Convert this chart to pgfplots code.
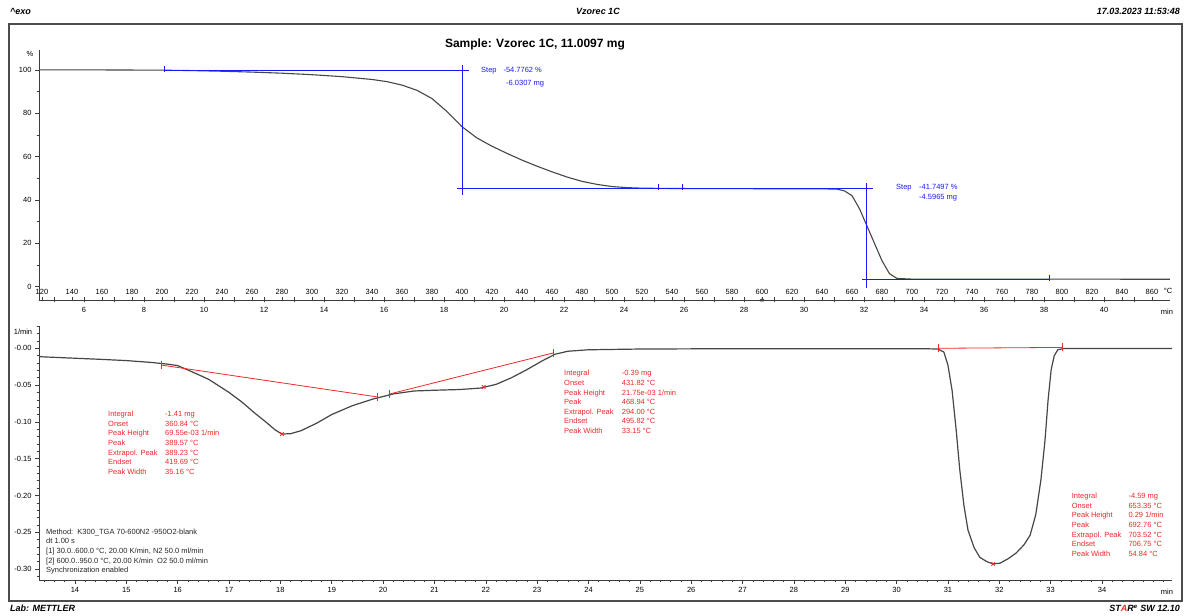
\documentclass[border=0pt]{standalone}
\usepackage{pgfplots}
\pgfplotsset{compat=1.18}
\usepackage{fontspec}
\setmainfont{Liberation Sans}
\definecolor{curve}{RGB}{70,70,70}
\definecolor{stepblue}{RGB}{25,25,255}
\definecolor{evred}{RGB}{240,40,40}
\definecolor{axgray}{RGB}{60,60,60}
\newcommand{\fs}{\fontsize{7.5}{9}\selectfont}
\newcommand{\tl}[3]{\node[anchor=base west,inner sep=0pt] at ({#1pt},{616pt-#2pt}) {#3};}
\pgfplotsset{
  mstyle/.style={scale only axis, clip=false,
    axis line style={axgray, line width=0.8pt},
    tick style={axgray, line width=0.6pt},
    major tick length=4pt, minor tick length=2.5pt,
    tick label style={font=\fs, text=black},
    /pgf/number format/assume math mode=true},
}
\begin{document}
\begin{tikzpicture}
\fill[white] (0pt,0pt) rectangle (1187pt,616pt);
\draw[gray!60!black, line width=1.3pt] (9pt,592pt) rectangle (1182pt,15pt);
% header / footer
\begin{scope}[font=\fontsize{9}{10}\selectfont\bfseries\itshape]
\node[anchor=base west,inner sep=0pt] at (10pt,601pt) {\textasciicircum exo};
\node[anchor=base,inner sep=0pt] at (598pt,601pt) {Vzorec 1C};
\node[anchor=base east,inner sep=0pt] at (1180pt,601pt) {17.03.2023 11:53:48};
\node[anchor=base west,inner sep=0pt] at (10pt,4pt) {Lab: METTLER};
\node[anchor=base east,inner sep=0pt] at (1180pt,4pt) {ST{\color{evred}A}R\textsuperscript{e} SW 12.10};
\end{scope}
\node[anchor=base,inner sep=0pt,font=\fontsize{12}{13}\selectfont\bfseries] at (535pt,568pt) {Sample: Vzorec 1C, 11.0097 mg};

% ===== TOP: TGA =====
\begin{axis}[mstyle, at={(39pt,316pt)}, anchor=south west, width=1131pt, height=250pt,
  xmin=118, xmax=872, ymin=-6.14, ymax=109.2,
  axis x line=none, axis y line*=left, tick align=outside,
  ytick={0,20,40,60,80,100}, minor ytick={10,30,50,70,90}]
\addplot[curve, line width=1.1pt] coordinates {
(118,100.0) (140,100.0) (160,100.0) (180,99.95) (200,99.9) (220,99.7) (240,99.4)
(260,99.0) (280,98.5) (300,97.8) (320,96.9) (340,95.6) (350,94.6) (360,93.0)
(370,90.6) (380,86.8) (390,80.8) (400,73.8) (410,68.6) (420,64.8) (430,61.5)
(440,58.4) (450,55.6) (460,53.0) (470,50.6) (480,48.6) (490,47.2) (500,46.2)
(510,45.7) (520,45.45) (540,45.3) (560,45.25) (600,45.2) (640,45.15) (650,45.0)
(655,44.2) (660,42.0) (665,36.0) (670,28.0) (675,20.0) (680,12.0) (685,6.0)
(690,3.8) (700,3.5) (760,3.47) (860,3.45) (872,3.45)};
\addplot[stepblue, line width=0.8pt] coordinates {(202,100) (404.7,100)};
\addplot[stepblue, line width=0.8pt] coordinates {(400.5,102.3) (400.5,42.1)};
\addplot[stepblue, line width=0.8pt] coordinates {(397,45.22) (674,45.22)};
\addplot[stepblue, line width=0.8pt] coordinates {(669.8,47.7) (669.8,-0.5)};
\addplot[stepblue, line width=0.8pt] coordinates {(666.7,3.47) (792,3.47)};
\addplot[stepblue, only marks, mark=|, mark size=3pt, line width=1pt] coordinates {
(202,100.6) (530.7,45.8) (547.3,45.8) (792,4.1)};
\end{axis}
% temperature labels above the line
\begin{axis}[mstyle, at={(39pt,316pt)}, anchor=south west, width=1131pt, height=250pt,
  xmin=118, xmax=872, ymin=0, ymax=1,
  axis y line=none, axis x line*=bottom, tick align=inside, major tick length=3pt,
  xtick={120,140,...,860}, xticklabel style={anchor=south, yshift=2pt}]
\addplot[axgray, only marks, mark=star, mark size=2.2pt, line width=0.6pt] coordinates {(600,0)};
\end{axis}
% time labels below the line
\begin{axis}[mstyle, at={(39pt,316pt)}, anchor=south west, width=1131pt, height=250pt,
  xmin=4.5, xmax=42.2, ymin=0, ymax=1,
  axis y line=none, axis x line*=bottom, tick align=center,
  major tick length=5pt, minor tick length=5pt,
  xtick={6,8,...,40}, minor xtick={5,7,...,41},
  xticklabel style={yshift=-1.5pt}]
\end{axis}
\node[font=\fs] at (30pt,562pt) {\%};
\node[font=\fs] at (1168pt,325pt) {°C};
\node[font=\fs] at (1167pt,304pt) {min};
\begin{scope}[font=\fs, text=stepblue]
\tl{481}{72.7}{Step}
\tl{503.3}{72.7}{-54.7762 \%}
\tl{506}{85.4}{-6.0307 mg}
\tl{896}{190}{Step}
\tl{919}{190}{-41.7497 \%}
\tl{919}{199.4}{-4.5965 mg}
\end{scope}

% ===== BOTTOM: DTG =====
\begin{axis}[mstyle, at={(39pt,36pt)}, anchor=south west, width=1133pt, height=254pt,
  xmin=13.299, xmax=35.363, ymin=-0.3148, ymax=0.0303,
  axis x line*=bottom, axis y line*=left, tick align=outside,
  xtick={14,15,...,34}, minor xtick={13.4,13.6,...,35.2},
  ytick={-0.3,-0.25,-0.2,-0.15,-0.1,-0.05,0},
  yticklabels={-0.30,-0.25,-0.20,-0.15,-0.10,-0.05,-0.00},
  minor ytick={-0.31,-0.29,-0.28,-0.27,-0.26,-0.24,-0.23,-0.22,-0.21,-0.19,-0.18,-0.17,-0.16,-0.14,-0.13,-0.12,-0.11,-0.09,-0.08,-0.07,-0.06,-0.04,-0.03,-0.02,-0.01,0.01,0.02,0.03}]
\addplot[curve, line width=1.2pt] coordinates {
(13.299,-0.0114) (14.0,-0.0135) (14.5,-0.0150) (15.0,-0.0167) (15.5,-0.0193)
(15.8,-0.0215) (16.0,-0.0235) (16.2,-0.0295) (16.6,-0.042) (17.0,-0.060)
(17.25,-0.073) (17.5,-0.088) (17.75,-0.102) (17.9,-0.111) (18.03,-0.1165)
(18.2,-0.116) (18.4,-0.112) (18.7,-0.102) (19.0,-0.090) (19.4,-0.078)
(19.8,-0.069) (20.2,-0.062) (20.6,-0.058) (21.0,-0.057) (21.5,-0.056)
(21.9,-0.054) (22.2,-0.049) (22.5,-0.040) (22.8,-0.029) (23.1,-0.017)
(23.35,-0.008) (23.6,-0.004) (24.0,-0.002) (25,-0.001) (27,-0.0005)
(29,-0.0005) (30.5,-0.0005) (30.8,-0.001) (30.92,-0.005) (31.0,-0.023)
(31.08,-0.057) (31.16,-0.111) (31.23,-0.165) (31.31,-0.213) (31.39,-0.247)
(31.51,-0.271) (31.62,-0.284) (31.76,-0.290) (31.88,-0.293) (32.01,-0.292)
(32.17,-0.286) (32.33,-0.278) (32.48,-0.267) (32.60,-0.254) (32.71,-0.226)
(32.81,-0.179) (32.89,-0.125) (32.95,-0.070) (33.01,-0.029) (33.07,-0.010)
(33.14,-0.002) (33.26,-0.0003) (34,-0.0003) (35.363,-0.0003)};
\addplot[evred, line width=0.8pt] coordinates {(15.675,-0.0227) (19.90,-0.0662)};
\addplot[evred, line width=0.8pt] coordinates {(20.13,-0.062) (23.31,-0.0064)};
\addplot[evred, line width=0.8pt] coordinates {(30.81,0.0) (33.24,0.0012)};
\addplot[evred, only marks, mark=|, mark size=4pt, line width=1pt,
  mark options={evred, solid}] coordinates {
(15.675,-0.0227) (19.90,-0.0662) (20.13,-0.062) (23.31,-0.0064) (30.81,0.0) (33.24,0.0012)};
\addplot[evred, only marks, mark=x, mark size=2.5pt, line width=0.8pt] coordinates {
(18.03,-0.1165) (21.96,-0.0525) (31.88,-0.293)};
\end{axis}
\node[font=\fs] at (23pt,284pt) {1/min};
\node[font=\fs] at (1167pt,24pt) {min};

\begin{scope}[font=\fs, text=evred]
\tl{108}{416.7}{Integral}        \tl{165}{416.7}{-1.41 mg}
\tl{108}{426.4}{Onset}           \tl{165}{426.4}{360.84 °C}
\tl{108}{436.0}{Peak Height}     \tl{165}{436.0}{69.55e-03 1/min}
\tl{108}{445.7}{Peak}            \tl{165}{445.7}{389.57 °C}
\tl{108}{455.4}{Extrapol. Peak}  \tl{165}{455.4}{389.23 °C}
\tl{108}{465.0}{Endset}          \tl{165}{465.0}{419.69 °C}
\tl{108}{474.7}{Peak Width}      \tl{165}{474.7}{35.16 °C}
\tl{564}{376.0}{Integral}        \tl{621.7}{376.0}{-0.39 mg}
\tl{564}{385.6}{Onset}           \tl{621.7}{385.6}{431.82 °C}
\tl{564}{395.1}{Peak Height}     \tl{621.7}{395.1}{21.75e-03 1/min}
\tl{564}{404.7}{Peak}            \tl{621.7}{404.7}{468.94 °C}
\tl{564}{414.3}{Extrapol. Peak}  \tl{621.7}{414.3}{294.00 °C}
\tl{564}{423.9}{Endset}          \tl{621.7}{423.9}{495.82 °C}
\tl{564}{433.4}{Peak Width}      \tl{621.7}{433.4}{33.15 °C}
\tl{1071.7}{498.7}{Integral}       \tl{1128.3}{498.7}{-4.59 mg}
\tl{1071.7}{508.4}{Onset}          \tl{1128.3}{508.4}{653.35 °C}
\tl{1071.7}{518.0}{Peak Height}    \tl{1128.3}{518.0}{0.29 1/min}
\tl{1071.7}{527.7}{Peak}           \tl{1128.3}{527.7}{692.76 °C}
\tl{1071.7}{537.4}{Extrapol. Peak} \tl{1128.3}{537.4}{703.52 °C}
\tl{1071.7}{547.0}{Endset}         \tl{1128.3}{547.0}{706.75 °C}
\tl{1071.7}{556.7}{Peak Width}     \tl{1128.3}{556.7}{54.84 °C}
\end{scope}
\begin{scope}[font=\fs, text=black!85]
\tl{46}{534.4}{Method:\ \ K300\_TGA 70-600N2 -950O2-blank}
\tl{46}{544.0}{dt 1.00 s}
\tl{46}{553.6}{[1] 30.0..600.0 °C, 20.00 K/min, N2 50.0 ml/min}
\tl{46}{563.2}{[2] 600.0..950.0 °C, 20.00 K/min\ \ O2 50.0 ml/min}
\tl{46}{572.8}{Synchronization enabled}
\end{scope}
\end{tikzpicture}
\end{document}
